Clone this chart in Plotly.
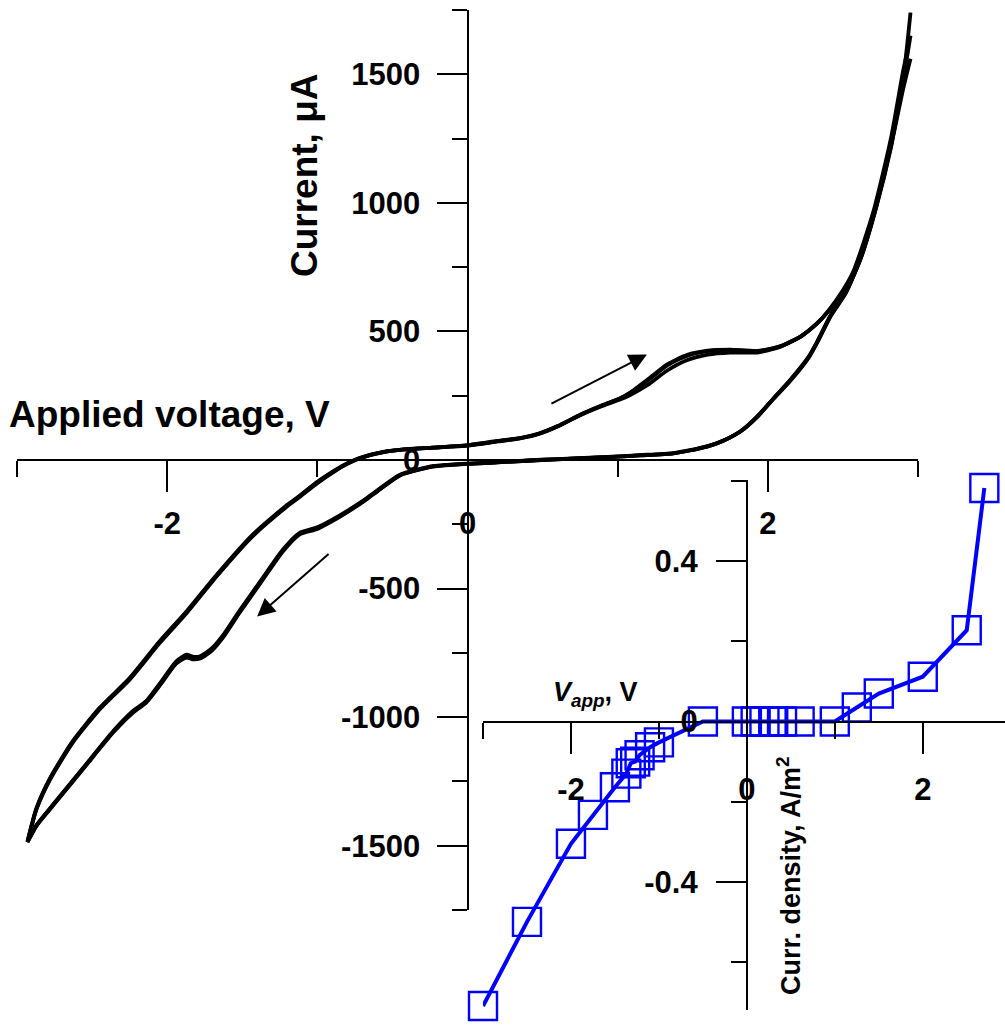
import plotly.graph_objects as go

# ---------------- main chart data (cyclic voltammogram, 3 cycles) ----------------
# forward scan 0 -> +2.95 V (upper right branch)
V_fwd = [0.0, 0.2, 0.35, 0.48, 0.6, 0.75, 0.88, 1.02, 1.08, 1.2, 1.33, 1.46, 1.6, 1.75,
         1.93, 2.08, 2.22, 2.33, 2.4, 2.5, 2.57, 2.7, 2.82, 2.9, 2.95]
I_fwd_1 = [56, 72, 84, 102, 130, 174, 206, 236, 252, 292, 348, 388, 410, 418,
           418, 440, 480, 532, 576, 655, 728, 950, 1230, 1470, 1740]
I_fwd_2 = [58, 74, 85, 104, 132, 176, 209, 241, 261, 313, 372, 408, 425, 429,
           424, 442, 481, 533, 578, 660, 734, 960, 1252, 1510, 1650]
I_fwd_3 = [57, 73, 85, 103, 131, 175, 208, 240, 259, 309, 368, 405, 423, 428,
           423, 441, 481, 532, 577, 652, 725, 945, 1220, 1440, 1560]

# return scan +2.95 -> 0 V (lower right branch)
V_ret = [2.95, 2.9, 2.82, 2.72, 2.62, 2.52, 2.42, 2.33, 2.27, 2.15, 2.04, 1.93, 1.82,
         1.7, 1.6, 1.48, 1.37, 1.15, 0.93, 0.7, 0.49, 0.3, 0.15, 0.0]
I_ret_1 = [1740, 1475, 1225, 985, 790, 655, 565, 462, 400, 312, 241, 170, 113,
           75, 54, 38, 27, 19, 12, 6, 1, -5, -10, -14]
I_ret_2 = [1650, 1470, 1222, 982, 788, 652, 563, 460, 398, 310, 240, 169, 112,
           74, 53, 37, 26, 18, 11, 5, 0, -6, -11, -15]
I_ret_3 = [1560, 1460, 1215, 978, 785, 650, 561, 458, 396, 308, 239, 168, 112,
           74, 53, 37, 26, 18, 11, 5, 0, -6, -11, -15]

# negative-going scan 0 -> -2.93 V (lower left branch)
V_neg = [0.0, -0.23, -0.45, -0.6, -0.67, -0.8, -0.9, -1.0, -1.12, -1.23, -1.38, -1.52,
         -1.62, -1.7, -1.78, -1.83, -1.87, -1.94, -2.04, -2.14, -2.23, -2.36, -2.56,
         -2.76, -2.87, -2.93]
I_neg_1 = [-14, -24, -57, -118, -148, -198, -232, -262, -284, -349, -472, -588,
           -675, -731, -763, -765, -757, -783, -862, -938, -977, -1055, -1198,
           -1340, -1420, -1483]
I_neg_2 = [-15, -26, -60, -122, -152, -203, -238, -268, -290, -356, -480, -596,
           -684, -740, -772, -775, -768, -792, -870, -944, -984, -1060, -1202,
           -1344, -1423, -1486]
I_neg_3 = [-15, -25, -59, -120, -150, -200, -235, -265, -287, -352, -476, -592,
           -680, -736, -768, -770, -763, -788, -866, -941, -980, -1058, -1200,
           -1342, -1421, -1485]

# positive-going scan -2.93 -> 0 V (upper left branch)
V_pos = [-2.93, -2.87, -2.78, -2.63, -2.45, -2.25, -2.05, -1.87, -1.67, -1.43, -1.2,
         -1.12, -1.0, -0.89, -0.8, -0.72, -0.56, -0.4, -0.23, 0.0]
I_pos_1 = [-1483, -1353, -1237, -1094, -964, -848, -705, -588, -446, -290, -174,
           -140, -85, -42, -12, 8, 32, 42, 48, 56]
I_pos_2 = [-1486, -1358, -1243, -1100, -970, -854, -712, -595, -452, -296, -180,
           -145, -90, -46, -15, 6, 31, 42, 48, 58]
I_pos_3 = [-1485, -1356, -1240, -1097, -967, -851, -708, -591, -449, -293, -177,
           -142, -87, -44, -14, 7, 31, 42, 48, 57]

cycles = [
    (I_fwd_1, I_ret_1, I_neg_1, I_pos_1),
    (I_fwd_2, I_ret_2, I_neg_2, I_pos_2),
    (I_fwd_3, I_ret_3, I_neg_3, I_pos_3),
]

main_x_ticks = [-2, 0, 2]
main_x_labels = ["-2", "0", "2"]
main_y_ticks = [-1500, -1000, -500, 0, 500, 1000, 1500]
main_y_labels = ["-1500", "-1000", "-500", "0", "500", "1000", "1500"]

# ---------------- inset data ----------------
V_app = [-3.0, -2.5, -2.0, -1.75, -1.5, -1.37, -1.32, -1.27, -1.22, -1.1, -1.0, -0.5,
         0.0, 0.1, 0.2, 0.3, 0.4, 0.6, 1.0, 1.25, 1.5, 2.0, 2.5, 2.7]
J_curr = [-0.71, -0.50, -0.305, -0.233, -0.164, -0.13, -0.104, -0.10, -0.084, -0.064,
          -0.052, 0.0, 0.0, 0.0, 0.0, 0.0, 0.0, 0.0, 0.0, 0.035, 0.07, 0.112, 0.228, 0.583]

ins_x_ticks = [-2, 0, 2]
ins_x_labels = ["-2", "0", "2"]
ins_y_ticks = [-0.4, 0, 0.4]
ins_y_labels = ["-0.4", "0", "0.4"]

# ---------------- layout geometry ----------------
W, H = 1005, 1025
FONT = "Arial, Liberation Sans, Helvetica, sans-serif"

def px_x(p):
    return p / W

def px_y(p):
    return (H - p) / H

main_xdom = [px_x(17), px_x(918)]
main_ydom = [px_y(910), px_y(10)]
main_xrng = [-3, 3]
main_yrng = [-1750, 1750]

ins_xdom = [px_x(483), 1.0]
ins_ydom = [px_y(1010), px_y(480)]
ins_xrng = [-3.0, 2.935]
ins_yrng = [-0.72, 0.603]


def zero_pos(dom, rng):
    return dom[0] + (0 - rng[0]) / (rng[1] - rng[0]) * (dom[1] - dom[0])


fig = go.Figure()

for I_f, I_r, I_n, I_p in cycles:
    xs = V_fwd + V_ret + V_neg + V_pos
    ys = I_f + I_r + I_n + I_p
    fig.add_trace(go.Scatter(
        x=xs, y=ys, mode="lines", xaxis="x", yaxis="y",
        line=dict(color="black", width=3.8, shape="spline", smoothing=0.6),
        showlegend=False, hoverinfo="skip"))

fig.add_trace(go.Scatter(
    x=V_app, y=J_curr, mode="lines+markers", xaxis="x2", yaxis="y2",
    line=dict(color="#0000ff", width=4),
    marker=dict(symbol="square-open", size=28, color="#0000ff",
                line=dict(color="#0000ff", width=2.4)),
    cliponaxis=False, showlegend=False, hoverinfo="skip"))

tickfont = dict(family=FONT, size=31, color="black", weight="bold")

common = dict(showline=True, linecolor="black", linewidth=2, ticks="outside",
              tickcolor="black", tickwidth=2, showgrid=False, zeroline=False,
              tickfont=tickfont, anchor="free", tickmode="array")

fig.update_layout(
    width=W, height=H,
    margin=dict(l=0, r=0, t=0, b=0),
    paper_bgcolor="white", plot_bgcolor="rgba(0,0,0,0)",
    xaxis=dict(domain=main_xdom, range=main_xrng,
               position=zero_pos(main_ydom, main_yrng),
               tickvals=main_x_ticks, ticktext=main_x_labels,
               ticklen=31, ticklabelstandoff=5,
               minor=dict(dtick=1, tick0=0, ticklen=16, tickwidth=2,
                          tickcolor="black", ticks="outside"),
               **common),
    yaxis=dict(domain=main_ydom, range=main_yrng,
               position=zero_pos(main_xdom, main_xrng),
               tickvals=main_y_ticks, ticktext=main_y_labels,
               ticklen=30, ticklabelstandoff=10,
               minor=dict(dtick=250, tick0=0, ticklen=15, tickwidth=2,
                          tickcolor="black", ticks="outside"),
               **common),
    xaxis2=dict(domain=ins_xdom, range=ins_xrng,
                position=zero_pos(ins_ydom, ins_yrng),
                tickvals=ins_x_ticks, ticktext=ins_x_labels,
                ticklen=31, ticklabelstandoff=9,
                minor=dict(dtick=1, tick0=0, ticklen=16, tickwidth=2,
                           tickcolor="black", ticks="outside"),
                **common),
    yaxis2=dict(domain=ins_ydom, range=ins_yrng,
                position=zero_pos(ins_xdom, ins_xrng),
                tickvals=ins_y_ticks, ticktext=ins_y_labels,
                ticklen=30, ticklabelstandoff=12,
                minor=dict(dtick=0.2, tick0=0, ticklen=15, tickwidth=2,
                           tickcolor="black", ticks="outside"),
                **common),
)

title_font = dict(family=FONT, size=37, color="black", weight="bold")
inset_font = dict(family=FONT, size=27, color="black", weight="bold")

annotations = [
    dict(text="Applied voltage, V", xref="paper", yref="paper",
         x=px_x(7), y=px_y(414), xanchor="left", yanchor="middle",
         showarrow=False, font=title_font),
    dict(text="Current, \u03bcA", xref="paper", yref="paper",
         x=px_x(304), y=px_y(175), xanchor="center", yanchor="middle",
         textangle=-90, showarrow=False, font=title_font),
    dict(text="<i>V</i><sub><i>app</i></sub>, V", xref="paper", yref="paper",
         x=px_x(551), y=px_y(694), xanchor="left", yanchor="middle",
         showarrow=False, font=inset_font),
    dict(text="Curr. density, A/m<sup>2</sup>", xref="paper", yref="paper",
         x=px_x(789), y=px_y(876), xanchor="center", yanchor="middle",
         textangle=-90, showarrow=False, font=inset_font),
    # scan direction arrows
    dict(x=1.195, y=410, ax=0.549, ay=216, xref="x", yref="y", axref="x", ayref="y",
         text="", showarrow=True, arrowhead=2, arrowsize=1.8, arrowwidth=2,
         arrowcolor="black", standoff=0),
    dict(x=-1.401, y=-609, ax=-0.915, ay=-360, xref="x", yref="y", axref="x", ayref="y",
         text="", showarrow=True, arrowhead=2, arrowsize=1.8, arrowwidth=2,
         arrowcolor="black", standoff=0),
]
fig.update_layout(annotations=annotations)

fig.write_html("out.html")
